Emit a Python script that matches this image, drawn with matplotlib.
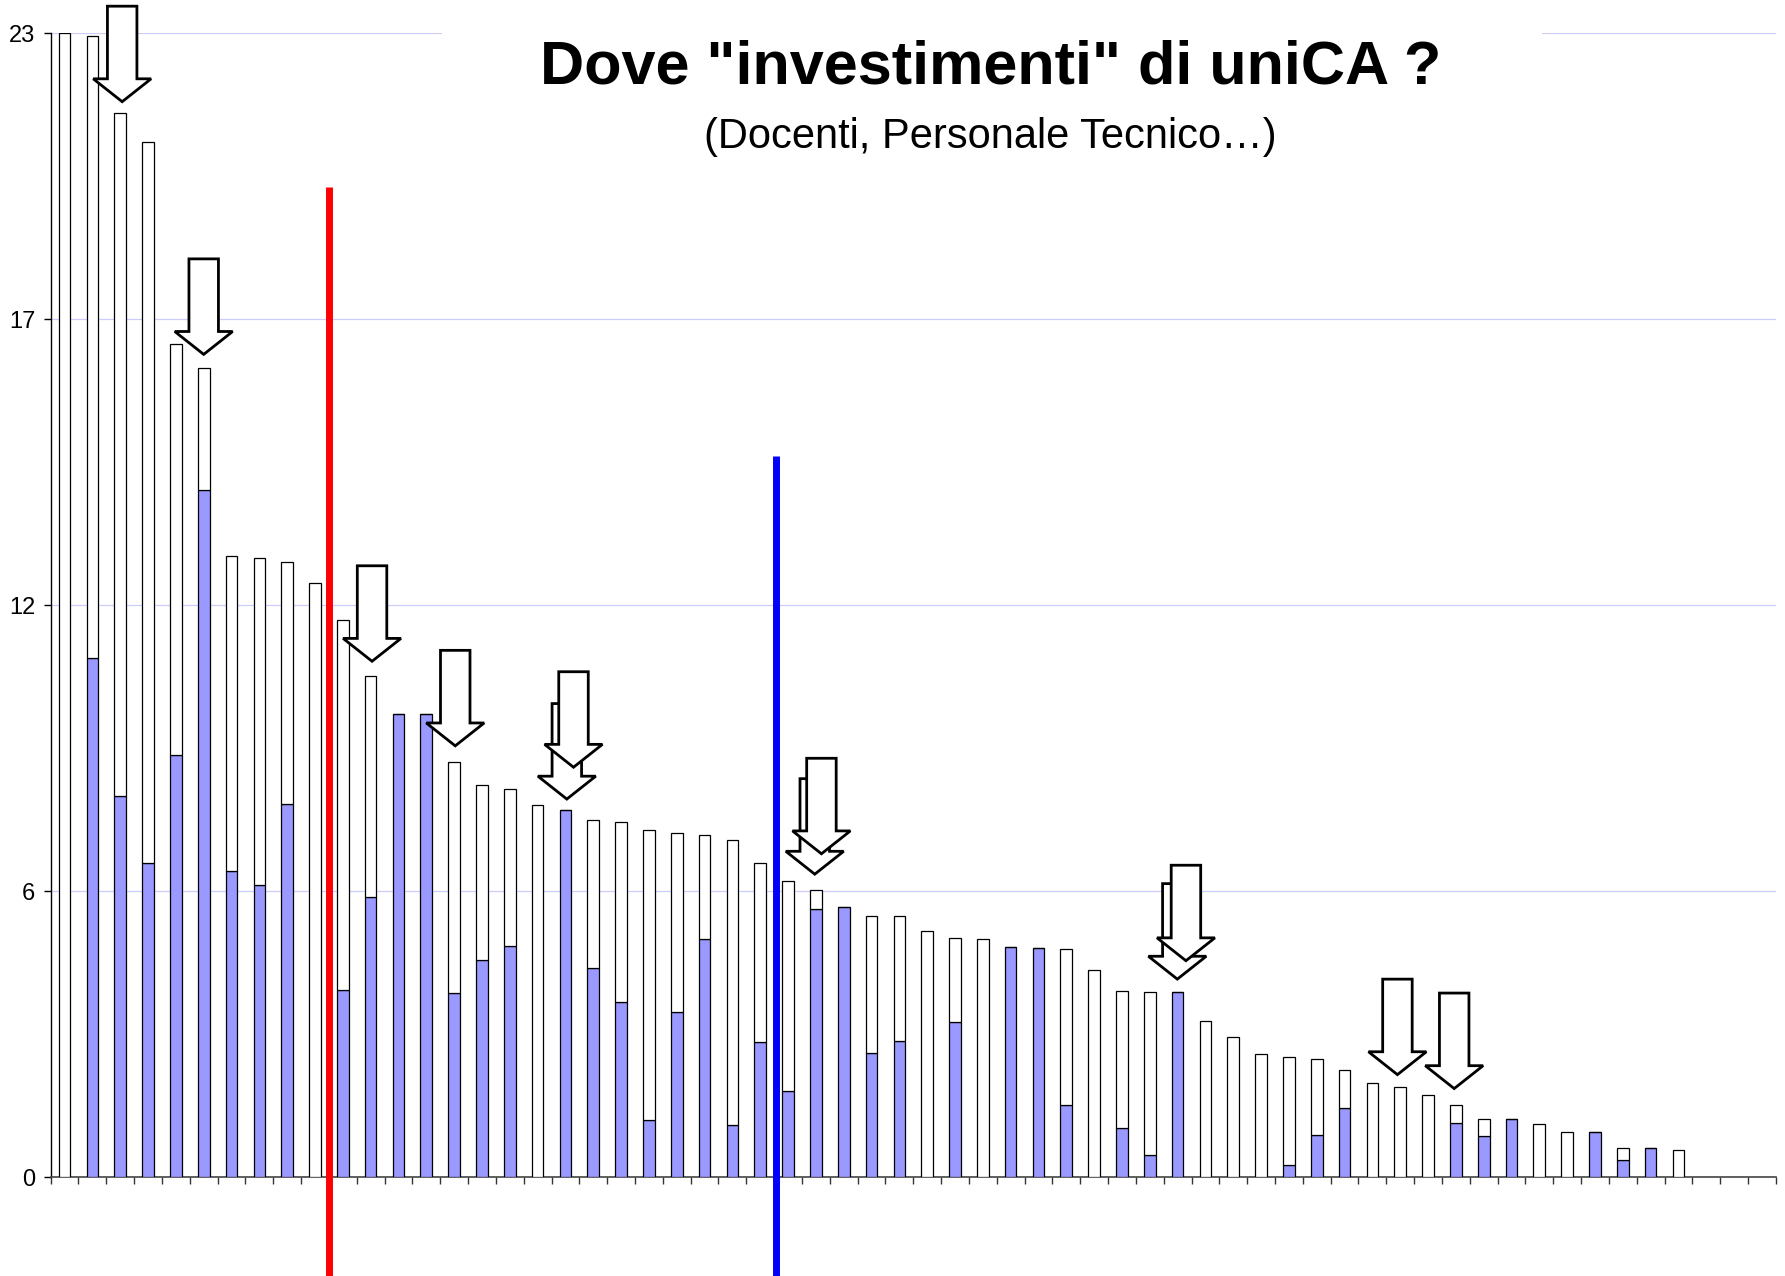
import matplotlib
matplotlib.use('Agg')
import matplotlib.pyplot as plt
from matplotlib.patches import Polygon, Rectangle
import numpy as np

# Dati: altezza totale e parte blu di ogni barra (59 barre, 62 categorie)
totale = [23.0, 22.95, 21.4, 20.8, 16.75, 16.26, 12.49, 12.45, 12.36, 11.95,
          11.21, 10.07, 9.31, 9.31, 8.35, 7.89, 7.81, 7.49, 7.38, 7.17,
          7.14, 6.98, 6.91, 6.88, 6.77, 6.32, 5.96, 5.78, 5.43, 5.24,
          5.24, 4.94, 4.81, 4.78, 4.63, 4.60, 4.58, 4.17, 3.75, 3.72,
          3.72, 3.13, 2.82, 2.47, 2.42, 2.37, 2.16, 1.90, 1.82, 1.66,
          1.44, 1.17, 1.17, 1.06, 0.91, 0.91, 0.59, 0.59, 0.54]
blu = [0, 10.44, 7.66, 6.32, 8.49, 13.82, 6.15, 5.87, 7.5, 0,
       3.76, 5.63, 9.31, 9.31, 3.70, 4.37, 4.64, 0, 7.38, 4.21,
       3.52, 1.14, 3.32, 4.79, 1.05, 2.71, 1.73, 5.39, 5.43, 2.50,
       2.73, 0, 3.11, 0, 4.63, 4.60, 1.44, 0, 0.99, 0.45,
       3.72, 0, 0, 0, 0.24, 0.85, 1.38, 0, 0, 0,
       1.09, 0.83, 1.17, 0, 0, 0.91, 0.34, 0.59, 0]
n_categorie = 62

# Valori dell'asse y (Excel: max 23, unita' 5.75)
y_ticks = [0, 5.75, 11.5, 17.25, 23]
y_labels = ['0', '6', '12', '17', '23']

# Frecce (punta in coordinate dati)
freccia_x = [2.07, 5.0, 11.05, 14.04, 18.05, 18.29, 26.96, 27.2, 39.99, 40.3, 47.9, 49.94]
freccia_y = [21.62, 16.54, 10.37, 8.67, 7.60, 8.24, 6.09, 6.50, 3.98, 4.35, 2.06, 1.78]

# Linee verticali
linea_rossa = (9.52, 19.9)
linea_blu = (25.56, 14.5)

titolo = 'Dove "investimenti" di uniCA ?'
sottotitolo = '(Docenti, Personale Tecnico\u2026)'

plt.rcParams['font.family'] = ['Liberation Sans', 'DejaVu Sans']

fig = plt.figure(figsize=(17.85, 12.76), dpi=100)
ax = fig.add_axes([0.02838, 0.0775, 0.9665, 0.8966])

x = np.arange(len(totale))
bianco = np.array(totale) - np.array(blu)
ax.bar(x, blu, width=0.42, color='#9999FF', edgecolor='black', linewidth=0.9, zorder=3)
ax.bar(x, bianco, width=0.42, bottom=blu, color='white', edgecolor='black', linewidth=0.9, zorder=3)

ax.set_xlim(-0.5, n_categorie - 0.5)
ax.set_ylim(0, 23)
ax.set_yticks(y_ticks)
ax.set_yticklabels(y_labels, fontsize=17)
ax.set_xticks(np.arange(n_categorie + 1) - 0.5)
ax.set_xticklabels([])
ax.tick_params(axis='x', direction='out', length=5, width=1, color='#333333')
ax.tick_params(axis='y', direction='out', length=5, width=1, pad=6)
ax.grid(axis='y', color='#CCCCFF', linewidth=0.9, zorder=0)
ax.set_axisbelow(True)
for s in ['top', 'right']:
    ax.spines[s].set_visible(False)
ax.spines['left'].set_linewidth(1)
ax.spines['bottom'].set_color('#444444')
ax.spines['bottom'].set_linewidth(1.2)

# Box bianco dietro al titolo (copre la griglia)
ax.add_patch(Rectangle((0.2475, 0.87), 0.6166, 0.13, transform=fig.transFigure,
                       facecolor='white', edgecolor='none', zorder=4, clip_on=False))

# Linee verticali rossa e blu
ax.plot([linea_rossa[0]] * 2, [-3, linea_rossa[1]], color='#FF0000', linewidth=5,
        solid_capstyle='butt', clip_on=False, zorder=6)
ax.plot([linea_blu[0]] * 2, [-3, linea_blu[1]], color='#0000FF', linewidth=5,
        solid_capstyle='butt', clip_on=False, zorder=6)

# Frecce
sw, hw, L, hl = 0.53, 1.04, 1.92, 0.46
for fx, fy in zip(freccia_x, freccia_y):
    pts = [(fx - sw, fy + L), (fx + sw, fy + L), (fx + sw, fy + hl), (fx + hw, fy + hl),
           (fx, fy), (fx - hw, fy + hl), (fx - sw, fy + hl)]
    ax.add_patch(Polygon(pts, closed=True, facecolor='white', edgecolor='black',
                         linewidth=2, joinstyle='miter', clip_on=False, zorder=7))

# Titolo: font condensato se disponibile, altrimenti Liberation Sans ridotto
t1 = fig.text(0.5548, 0.947, titolo, ha='center', va='center', fontsize=52, fontweight='bold',
              family=['Noto Sans', 'Liberation Sans'], fontstretch='condensed', zorder=8)
t2 = fig.text(0.5548, 0.893, sottotitolo, ha='center', va='center', fontsize=34,
              family=['Noto Sans', 'Liberation Sans'], fontstretch='condensed', zorder=8)
fig.canvas.draw()
r = fig.canvas.get_renderer()
for t, w_target, fs_arial in [(t1, 857, 44), (t2, 571, 30)]:
    if t.get_window_extent(r).width > w_target * 1.08:
        t.set_family(['Liberation Sans', 'DejaVu Sans'])
        t.set_fontstretch('normal')
        t.set_fontsize(fs_arial)

fig.savefig('out.png', dpi=100, facecolor='white')
